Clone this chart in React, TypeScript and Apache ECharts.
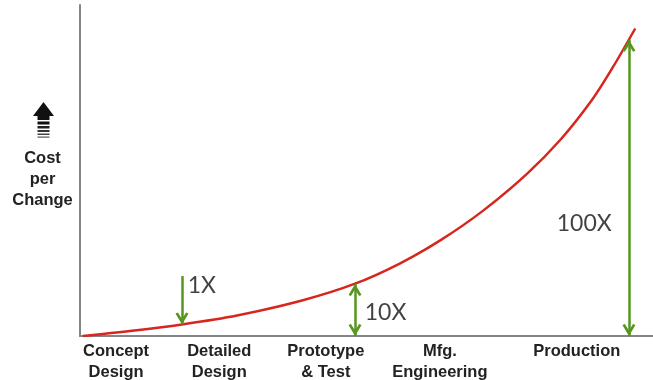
import React, { useEffect, useRef } from 'react';
import * as echarts from 'echarts';

// Development stages (x-axis tick labels) and their positions on the 0-100 x scale
const stageLabels = ['Concept\nDesign', 'Detailed\nDesign', 'Prototype\n& Test', 'Mfg.\nEngineering', 'Production'];
const stagePositions = [6.3, 24.3, 42.9, 62.8, 86.7];

// Cost-per-change curve (x on 0-100 scale, y on 0-100 scale)
const curveX = [0.5, 8.7, 17.8, 27.4, 38.9, 48.0, 55.8, 62.8, 70.3, 78.0, 83.8, 89.5, 93.0, 96.9];
const curveY = [0, 1.5, 3.5, 6.2, 10.8, 15.8, 21.9, 28.8, 37.8, 49.0, 59.2, 71.7, 81.2, 92.9];

// Multiplier arrows
const arrowNames = ['1X', '10X', '100X'];
const arrowX = [17.8, 48.0, 95.8];
const arrowFrom = [18.1, 0, 0];
const arrowTo = [3.5, 15.7, 89.5];
const arrowStartHead = [false, true, true];
const labelX = [18.8, 49.7, 83.2];
const labelY = [15.7, 7.6, 34.4];

const chevron = 'path://M0,12 L6,0 L12,12 L9.8,13.2 L6,6 L2.2,13.2 Z';
const GREEN = '#56961e';
const RED = '#d7261e';

export default function App() {
  const ref = useRef<HTMLDivElement>(null);
  useEffect(() => {
    if (!ref.current) return;
    const chart = echarts.init(ref.current, undefined, { renderer: 'svg' });
    const curve = curveX.map((x, i) => [x, curveY[i]]);
    const arrowLines = arrowX.map((x, i) => [
      { coord: [x, arrowFrom[i]], symbol: arrowStartHead[i] ? chevron : 'none' },
      { coord: [x, arrowTo[i]], symbol: chevron },
    ]);
    const labels = arrowNames.map((n, i) => ({ value: [labelX[i], labelY[i]], name: n }));
    chart.setOption({
      animation: false,
      grid: { left: 80, right: 0, top: 5, bottom: 44, outerBoundsMode: 'none' },
      xAxis: {
        type: 'value',
        min: 0,
        max: 100,
        axisLine: { show: true, lineStyle: { color: '#858585', width: 2 } },
        axisTick: { show: false },
        splitLine: { show: false },
        axisLabel: {
          customValues: stagePositions,
          formatter: (v: number) => {
            let best = 0;
            stagePositions.forEach((p, i) => {
              if (Math.abs(p - v) < Math.abs(stagePositions[best] - v)) best = i;
            });
            return stageLabels[best];
          },
          margin: 3,
          fontFamily: 'Liberation Sans, Arial, sans-serif',
          fontWeight: 'bold',
          fontSize: 16.5,
          lineHeight: 21,
          color: '#222',
        },
      },
      yAxis: {
        type: 'value',
        min: 0,
        max: 100,
        axisLine: { show: true, lineStyle: { color: '#858585', width: 2 } },
        axisTick: { show: false },
        axisLabel: { show: false },
        splitLine: { show: false },
      },
      series: [
        {
          type: 'line',
          data: curve,
          smooth: 0.3,
          showSymbol: false,
          lineStyle: { color: RED, width: 2.5 },
          z: 3,
          markLine: {
            silent: true,
            symbolSize: [13, 12],
            symbolOffset: [[0, 6], [0, 6]],
            lineStyle: { color: GREEN, width: 2.5, type: 'solid' },
            label: { show: false },
            data: arrowLines,
          },
        },
        {
          type: 'scatter',
          data: labels,
          symbolSize: 0,
          silent: true,
          label: {
            show: true,
            formatter: (p: any) => p.name,
            position: [0, 0],
            align: 'left',
            verticalAlign: 'middle',
            fontFamily: 'Lato, sans-serif',
            fontSize: 23,
            color: '#111',
          },
        },
      ],
      graphic: [
        { type: 'polygon', shape: { points: [[33, 116], [43.5, 102], [54, 116]] }, style: { fill: '#111' } },
        { type: 'rect', shape: { x: 37.5, y: 115, width: 12, height: 5 }, style: { fill: '#111' } },
        { type: 'rect', shape: { x: 37.5, y: 121.5, width: 12, height: 3 }, style: { fill: '#111' } },
        { type: 'rect', shape: { x: 37.5, y: 126, width: 12, height: 2.5 }, style: { fill: '#222' } },
        { type: 'rect', shape: { x: 37.5, y: 130, width: 12, height: 2 }, style: { fill: '#333' } },
        { type: 'rect', shape: { x: 37.5, y: 133.5, width: 12, height: 1.5 }, style: { fill: '#444' } },
        { type: 'rect', shape: { x: 37.5, y: 136.5, width: 12, height: 1.2 }, style: { fill: '#555' } },
        {
          type: 'text',
          x: 42.5,
          y: 146,
          style: {
            text: 'Cost\nper\nChange',
            fontFamily: 'Liberation Sans, Arial, sans-serif',
            fontWeight: 'bold',
            fontSize: 16.5,
            lineHeight: 21,
            fill: '#222',
            align: 'center',
            verticalAlign: 'top',
          },
        },
      ],
    });
    return () => chart.dispose();
  }, []);
  return <div ref={ref} style={{ position: 'fixed', left: 0, top: 0, width: 653, height: 380 }} />;
}
